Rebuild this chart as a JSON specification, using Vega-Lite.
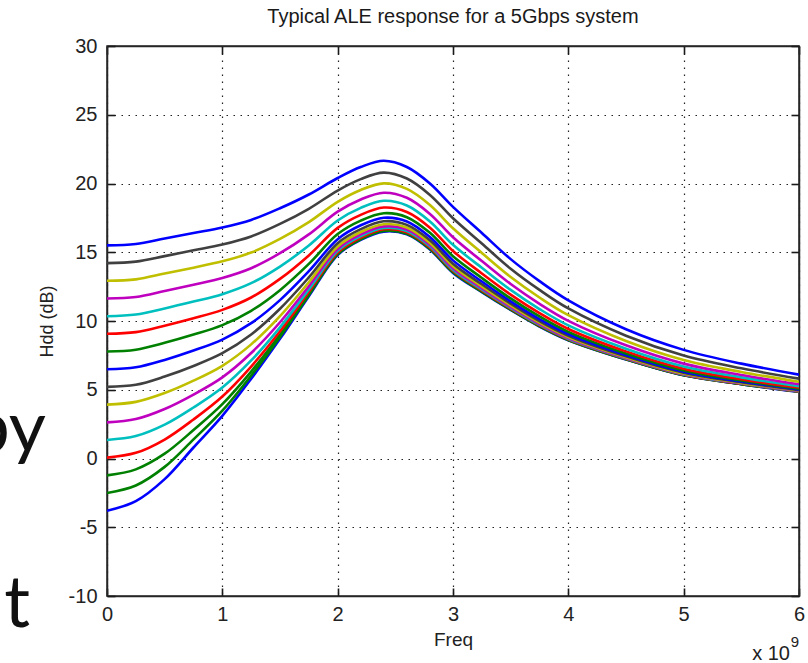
{
"$schema":"https://vega.github.io/schema/vega-lite/v6.json",
"width":692,"height":550,
"autosize":{"type":"none"},
"padding":{"left":107,"top":46,"right":9,"bottom":67},
"background":"#ffffff",
"title":{"text":"Typical ALE response for a 5Gbps system","font":"Liberation Sans","fontSize":20,"fontWeight":"normal","color":"#1a1a1a","offset":9,"anchor":"middle"},
"config":{"view":{"stroke":"#262626","strokeWidth":1.5},"font":"Liberation Sans"},
"datasets":{"curves":[
{"s":15,"f":0,"v":-3.8},{"s":15,"f":2.5e8,"v":-3.1},{"s":15,"f":5e8,"v":-1.5},{"s":15,"f":7.5e8,"v":0.8},{"s":15,"f":1e9,"v":3.1},{"s":15,"f":1.25e9,"v":5.8},{"s":15,"f":1.5e9,"v":8.7},{"s":15,"f":1.75e9,"v":11.8},{"s":15,"f":2e9,"v":14.8},{"s":15,"f":2.2e9,"v":15.9},{"s":15,"f":2.4e9,"v":16.5},{"s":15,"f":2.6e9,"v":16.3},{"s":15,"f":2.8e9,"v":15.2},{"s":15,"f":3e9,"v":13.5},{"s":15,"f":3.25e9,"v":12.1},{"s":15,"f":3.5e9,"v":10.8},{"s":15,"f":3.75e9,"v":9.6},{"s":15,"f":4e9,"v":8.6},{"s":15,"f":4.5e9,"v":7.2},{"s":15,"f":5e9,"v":6.05},{"s":15,"f":5.5e9,"v":5.4},{"s":15,"f":6e9,"v":4.85},
{"s":14,"f":0,"v":-2.51},{"s":14,"f":2.5e8,"v":-1.96},{"s":14,"f":5e8,"v":-0.61},{"s":14,"f":7.5e8,"v":1.39},{"s":14,"f":1e9,"v":3.48},{"s":14,"f":1.25e9,"v":6.03},{"s":14,"f":1.5e9,"v":8.84},{"s":14,"f":1.75e9,"v":11.88},{"s":14,"f":2e9,"v":14.85},{"s":14,"f":2.2e9,"v":15.94},{"s":14,"f":2.4e9,"v":16.54},{"s":14,"f":2.6e9,"v":16.34},{"s":14,"f":2.8e9,"v":15.24},{"s":14,"f":3e9,"v":13.54},{"s":14,"f":3.25e9,"v":12.13},{"s":14,"f":3.5e9,"v":10.82},{"s":14,"f":3.75e9,"v":9.62},{"s":14,"f":4e9,"v":8.62},{"s":14,"f":4.5e9,"v":7.21},{"s":14,"f":5e9,"v":6.06},{"s":14,"f":5.5e9,"v":5.41},{"s":14,"f":6e9,"v":4.86},
{"s":13,"f":0,"v":-1.23},{"s":13,"f":2.5e8,"v":-0.79},{"s":13,"f":5e8,"v":0.35},{"s":13,"f":7.5e8,"v":2.07},{"s":13,"f":1e9,"v":3.95},{"s":13,"f":1.25e9,"v":6.32},{"s":13,"f":1.5e9,"v":9.02},{"s":13,"f":1.75e9,"v":11.98},{"s":13,"f":2e9,"v":14.91},{"s":13,"f":2.2e9,"v":16.0},{"s":13,"f":2.4e9,"v":16.59},{"s":13,"f":2.6e9,"v":16.39},{"s":13,"f":2.8e9,"v":15.28},{"s":13,"f":3e9,"v":13.58},{"s":13,"f":3.25e9,"v":12.17},{"s":13,"f":3.5e9,"v":10.86},{"s":13,"f":3.75e9,"v":9.65},{"s":13,"f":4e9,"v":8.64},{"s":13,"f":4.5e9,"v":7.23},{"s":13,"f":5e9,"v":6.07},{"s":13,"f":5.5e9,"v":5.42},{"s":13,"f":6e9,"v":4.87},
{"s":12,"f":0,"v":0.06},{"s":12,"f":2.5e8,"v":0.41},{"s":12,"f":5e8,"v":1.38},{"s":12,"f":7.5e8,"v":2.84},{"s":12,"f":1e9,"v":4.51},{"s":12,"f":1.25e9,"v":6.69},{"s":12,"f":1.5e9,"v":9.25},{"s":12,"f":1.75e9,"v":12.12},{"s":12,"f":2e9,"v":14.99},{"s":12,"f":2.2e9,"v":16.07},{"s":12,"f":2.4e9,"v":16.67},{"s":12,"f":2.6e9,"v":16.45},{"s":12,"f":2.8e9,"v":15.35},{"s":12,"f":3e9,"v":13.65},{"s":12,"f":3.25e9,"v":12.22},{"s":12,"f":3.5e9,"v":10.9},{"s":12,"f":3.75e9,"v":9.69},{"s":12,"f":4e9,"v":8.67},{"s":12,"f":4.5e9,"v":7.25},{"s":12,"f":5e9,"v":6.09},{"s":12,"f":5.5e9,"v":5.43},{"s":12,"f":6e9,"v":4.88},
{"s":11,"f":0,"v":1.35},{"s":11,"f":2.5e8,"v":1.63},{"s":11,"f":5e8,"v":2.46},{"s":11,"f":7.5e8,"v":3.71},{"s":11,"f":1e9,"v":5.16},{"s":11,"f":1.25e9,"v":7.13},{"s":11,"f":1.5e9,"v":9.54},{"s":11,"f":1.75e9,"v":12.3},{"s":11,"f":2e9,"v":15.1},{"s":11,"f":2.2e9,"v":16.17},{"s":11,"f":2.4e9,"v":16.76},{"s":11,"f":2.6e9,"v":16.54},{"s":11,"f":2.8e9,"v":15.43},{"s":11,"f":3e9,"v":13.73},{"s":11,"f":3.25e9,"v":12.29},{"s":11,"f":3.5e9,"v":10.96},{"s":11,"f":3.75e9,"v":9.73},{"s":11,"f":4e9,"v":8.71},{"s":11,"f":4.5e9,"v":7.28},{"s":11,"f":5e9,"v":6.11},{"s":11,"f":5.5e9,"v":5.45},{"s":11,"f":6e9,"v":4.89},
{"s":10,"f":0,"v":2.63},{"s":10,"f":2.5e8,"v":2.87},{"s":10,"f":5e8,"v":3.6},{"s":10,"f":7.5e8,"v":4.65},{"s":10,"f":1e9,"v":5.9},{"s":10,"f":1.25e9,"v":7.67},{"s":10,"f":1.5e9,"v":9.91},{"s":10,"f":1.75e9,"v":12.53},{"s":10,"f":2e9,"v":15.24},{"s":10,"f":2.2e9,"v":16.3},{"s":10,"f":2.4e9,"v":16.88},{"s":10,"f":2.6e9,"v":16.65},{"s":10,"f":2.8e9,"v":15.54},{"s":10,"f":3e9,"v":13.84},{"s":10,"f":3.25e9,"v":12.39},{"s":10,"f":3.5e9,"v":11.03},{"s":10,"f":3.75e9,"v":9.8},{"s":10,"f":4e9,"v":8.76},{"s":10,"f":4.5e9,"v":7.31},{"s":10,"f":5e9,"v":6.14},{"s":10,"f":5.5e9,"v":5.47},{"s":10,"f":6e9,"v":4.91},
{"s":9,"f":0,"v":3.92},{"s":9,"f":2.5e8,"v":4.12},{"s":9,"f":5e8,"v":4.76},{"s":9,"f":7.5e8,"v":5.66},{"s":9,"f":1e9,"v":6.74},{"s":9,"f":1.25e9,"v":8.3},{"s":9,"f":1.5e9,"v":10.35},{"s":9,"f":1.75e9,"v":12.82},{"s":9,"f":2e9,"v":15.42},{"s":9,"f":2.2e9,"v":16.47},{"s":9,"f":2.4e9,"v":17.04},{"s":9,"f":2.6e9,"v":16.8},{"s":9,"f":2.8e9,"v":15.68},{"s":9,"f":3e9,"v":13.99},{"s":9,"f":3.25e9,"v":12.51},{"s":9,"f":3.5e9,"v":11.13},{"s":9,"f":3.75e9,"v":9.88},{"s":9,"f":4e9,"v":8.84},{"s":9,"f":4.5e9,"v":7.37},{"s":9,"f":5e9,"v":6.18},{"s":9,"f":5.5e9,"v":5.5},{"s":9,"f":6e9,"v":4.94},
{"s":8,"f":0,"v":5.21},{"s":8,"f":2.5e8,"v":5.36},{"s":8,"f":5e8,"v":5.96},{"s":8,"f":7.5e8,"v":6.73},{"s":8,"f":1e9,"v":7.66},{"s":8,"f":1.25e9,"v":9.02},{"s":8,"f":1.5e9,"v":10.89},{"s":8,"f":1.75e9,"v":13.17},{"s":8,"f":2e9,"v":15.66},{"s":8,"f":2.2e9,"v":16.68},{"s":8,"f":2.4e9,"v":17.25},{"s":8,"f":2.6e9,"v":16.99},{"s":8,"f":2.8e9,"v":15.87},{"s":8,"f":3e9,"v":14.17},{"s":8,"f":3.25e9,"v":12.67},{"s":8,"f":3.5e9,"v":11.26},{"s":8,"f":3.75e9,"v":9.99},{"s":8,"f":4e9,"v":8.93},{"s":8,"f":4.5e9,"v":7.43},{"s":8,"f":5e9,"v":6.24},{"s":8,"f":5.5e9,"v":5.55},{"s":8,"f":6e9,"v":4.97},
{"s":7,"f":0,"v":6.49},{"s":7,"f":2.5e8,"v":6.63},{"s":7,"f":5e8,"v":7.17},{"s":7,"f":7.5e8,"v":7.85},{"s":7,"f":1e9,"v":8.65},{"s":7,"f":1.25e9,"v":9.84},{"s":7,"f":1.5e9,"v":11.52},{"s":7,"f":1.75e9,"v":13.62},{"s":7,"f":2e9,"v":15.95},{"s":7,"f":2.2e9,"v":16.96},{"s":7,"f":2.4e9,"v":17.51},{"s":7,"f":2.6e9,"v":17.24},{"s":7,"f":2.8e9,"v":16.11},{"s":7,"f":3e9,"v":14.41},{"s":7,"f":3.25e9,"v":12.87},{"s":7,"f":3.5e9,"v":11.43},{"s":7,"f":3.75e9,"v":10.14},{"s":7,"f":4e9,"v":9.05},{"s":7,"f":4.5e9,"v":7.52},{"s":7,"f":5e9,"v":6.31},{"s":7,"f":5.5e9,"v":5.6},{"s":7,"f":6e9,"v":5.02},
{"s":6,"f":0,"v":7.78},{"s":6,"f":2.5e8,"v":7.91},{"s":6,"f":5e8,"v":8.41},{"s":6,"f":7.5e8,"v":9.01},{"s":6,"f":1e9,"v":9.7},{"s":6,"f":1.25e9,"v":10.74},{"s":6,"f":1.5e9,"v":12.24},{"s":6,"f":1.75e9,"v":14.15},{"s":6,"f":2e9,"v":16.32},{"s":6,"f":2.2e9,"v":17.3},{"s":6,"f":2.4e9,"v":17.84},{"s":6,"f":2.6e9,"v":17.55},{"s":6,"f":2.8e9,"v":16.41},{"s":6,"f":3e9,"v":14.71},{"s":6,"f":3.25e9,"v":13.13},{"s":6,"f":3.5e9,"v":11.64},{"s":6,"f":3.75e9,"v":10.33},{"s":6,"f":4e9,"v":9.21},{"s":6,"f":4.5e9,"v":7.63},{"s":6,"f":5e9,"v":6.4},{"s":6,"f":5.5e9,"v":5.68},{"s":6,"f":6e9,"v":5.08},
{"s":5,"f":0,"v":9.07},{"s":5,"f":2.5e8,"v":9.19},{"s":5,"f":5e8,"v":9.66},{"s":5,"f":7.5e8,"v":10.2},{"s":5,"f":1e9,"v":10.81},{"s":5,"f":1.25e9,"v":11.71},{"s":5,"f":1.5e9,"v":13.06},{"s":5,"f":1.75e9,"v":14.77},{"s":5,"f":2e9,"v":16.77},{"s":5,"f":2.2e9,"v":17.72},{"s":5,"f":2.4e9,"v":18.25},{"s":5,"f":2.6e9,"v":17.93},{"s":5,"f":2.8e9,"v":16.79},{"s":5,"f":3e9,"v":15.09},{"s":5,"f":3.25e9,"v":13.46},{"s":5,"f":3.5e9,"v":11.92},{"s":5,"f":3.75e9,"v":10.57},{"s":5,"f":4e9,"v":9.42},{"s":5,"f":4.5e9,"v":7.79},{"s":5,"f":5e9,"v":6.53},{"s":5,"f":5.5e9,"v":5.77},{"s":5,"f":6e9,"v":5.16},
{"s":4,"f":0,"v":10.35},{"s":4,"f":2.5e8,"v":10.47},{"s":4,"f":5e8,"v":10.91},{"s":4,"f":7.5e8,"v":11.41},{"s":4,"f":1e9,"v":11.95},{"s":4,"f":1.25e9,"v":12.75},{"s":4,"f":1.5e9,"v":13.96},{"s":4,"f":1.75e9,"v":15.49},{"s":4,"f":2e9,"v":17.31},{"s":4,"f":2.2e9,"v":18.23},{"s":4,"f":2.4e9,"v":18.74},{"s":4,"f":2.6e9,"v":18.4},{"s":4,"f":2.8e9,"v":17.24},{"s":4,"f":3e9,"v":15.54},{"s":4,"f":3.25e9,"v":13.87},{"s":4,"f":3.5e9,"v":12.26},{"s":4,"f":3.75e9,"v":10.87},{"s":4,"f":4e9,"v":9.68},{"s":4,"f":4.5e9,"v":7.98},{"s":4,"f":5e9,"v":6.69},{"s":4,"f":5.5e9,"v":5.9},{"s":4,"f":6e9,"v":5.26},
{"s":3,"f":0,"v":11.64},{"s":3,"f":2.5e8,"v":11.75},{"s":3,"f":5e8,"v":12.18},{"s":3,"f":7.5e8,"v":12.64},{"s":3,"f":1e9,"v":13.13},{"s":3,"f":1.25e9,"v":13.84},{"s":3,"f":1.5e9,"v":14.93},{"s":3,"f":1.75e9,"v":16.3},{"s":3,"f":2e9,"v":17.95},{"s":3,"f":2.2e9,"v":18.84},{"s":3,"f":2.4e9,"v":19.33},{"s":3,"f":2.6e9,"v":18.96},{"s":3,"f":2.8e9,"v":17.79},{"s":3,"f":3e9,"v":16.09},{"s":3,"f":3.25e9,"v":14.36},{"s":3,"f":3.5e9,"v":12.69},{"s":3,"f":3.75e9,"v":11.25},{"s":3,"f":4e9,"v":10.01},{"s":3,"f":4.5e9,"v":8.23},{"s":3,"f":5e9,"v":6.9},{"s":3,"f":5.5e9,"v":6.07},{"s":3,"f":6e9,"v":5.4},
{"s":2,"f":0,"v":12.93},{"s":2,"f":2.5e8,"v":13.03},{"s":2,"f":5e8,"v":13.45},{"s":2,"f":7.5e8,"v":13.88},{"s":2,"f":1e9,"v":14.34},{"s":2,"f":1.25e9,"v":14.98},{"s":2,"f":1.5e9,"v":15.97},{"s":2,"f":1.75e9,"v":17.19},{"s":2,"f":2e9,"v":18.67},{"s":2,"f":2.2e9,"v":19.53},{"s":2,"f":2.4e9,"v":20.01},{"s":2,"f":2.6e9,"v":19.61},{"s":2,"f":2.8e9,"v":18.44},{"s":2,"f":3e9,"v":16.74},{"s":2,"f":3.25e9,"v":14.95},{"s":2,"f":3.5e9,"v":13.2},{"s":2,"f":3.75e9,"v":11.71},{"s":2,"f":4e9,"v":10.42},{"s":2,"f":4.5e9,"v":8.54},{"s":2,"f":5e9,"v":7.16},{"s":2,"f":5.5e9,"v":6.29},{"s":2,"f":6e9,"v":5.58},
{"s":1,"f":0,"v":14.21},{"s":1,"f":2.5e8,"v":14.32},{"s":1,"f":5e8,"v":14.72},{"s":1,"f":7.5e8,"v":15.14},{"s":1,"f":1e9,"v":15.56},{"s":1,"f":1.25e9,"v":16.15},{"s":1,"f":1.5e9,"v":17.06},{"s":1,"f":1.75e9,"v":18.16},{"s":1,"f":2e9,"v":19.49},{"s":1,"f":2.2e9,"v":20.32},{"s":1,"f":2.4e9,"v":20.79},{"s":1,"f":2.6e9,"v":20.36},{"s":1,"f":2.8e9,"v":19.17},{"s":1,"f":3e9,"v":17.47},{"s":1,"f":3.25e9,"v":15.63},{"s":1,"f":3.5e9,"v":13.8},{"s":1,"f":3.75e9,"v":12.26},{"s":1,"f":4e9,"v":10.91},{"s":1,"f":4.5e9,"v":8.93},{"s":1,"f":5e9,"v":7.49},{"s":1,"f":5.5e9,"v":6.56},{"s":1,"f":6e9,"v":5.81},
{"s":0,"f":0,"v":15.5},{"s":0,"f":2.5e8,"v":15.6},{"s":0,"f":5e8,"v":16.0},{"s":0,"f":7.5e8,"v":16.4},{"s":0,"f":1e9,"v":16.8},{"s":0,"f":1.25e9,"v":17.35},{"s":0,"f":1.5e9,"v":18.2},{"s":0,"f":1.75e9,"v":19.2},{"s":0,"f":2e9,"v":20.4},{"s":0,"f":2.2e9,"v":21.2},{"s":0,"f":2.4e9,"v":21.65},{"s":0,"f":2.6e9,"v":21.2},{"s":0,"f":2.8e9,"v":20.0},{"s":0,"f":3e9,"v":18.3},{"s":0,"f":3.25e9,"v":16.4},{"s":0,"f":3.5e9,"v":14.5},{"s":0,"f":3.75e9,"v":12.9},{"s":0,"f":4e9,"v":11.5},{"s":0,"f":4.5e9,"v":9.4},{"s":0,"f":5e9,"v":7.9},{"s":0,"f":5.5e9,"v":6.9},{"s":0,"f":6e9,"v":6.1}
],"one":[{}]},
"layer":[
{"data":{"name":"curves"},
 "mark":{"type":"line","interpolate":"catmull-rom","strokeWidth":2.6,"clip":true},
 "encoding":{
  "x":{"field":"f","type":"quantitative","scale":{"domain":[0,6e9],"nice":false,"zero":false},
   "axis":{"orient":"bottom","values":[0,1e9,2e9,3e9,4e9,5e9,6e9],"labelExpr":"'' + (datum.value/1e9)","title":"Freq",
    "grid":true,"gridDash":[1.5,5.5],"gridColor":"#222222","gridWidth":1.2,"gridOpacity":1,
    "ticks":true,"tickSize":-8,"tickColor":"#1a1a1a","tickWidth":1.6,"tickOpacity":1,"labelPadding":16,"labelFontSize":20,"labelFont":"Liberation Sans","labelColor":"#222222","labelFlush":false,"labelOverlap":false,
    "titleFont":"Liberation Sans","titleFontSize":19,"titleFontWeight":"normal","titleColor":"#222222","titlePadding":6,
    "domainColor":"#262626","domainWidth":1.5}},
  "y":{"field":"v","type":"quantitative","scale":{"domain":[-10,30],"nice":false,"zero":false},
   "axis":{"orient":"left","values":[-10,-5,0,5,10,15,20,25,30],"labelExpr":"'' + datum.value","title":"Hdd (dB)",
    "grid":true,"gridDash":[1.5,5.5],"gridColor":"#222222","gridWidth":1.2,"gridOpacity":1,
    "ticks":true,"tickSize":-8,"tickColor":"#1a1a1a","tickWidth":1.6,"tickOpacity":1,"labelPadding":18,"labelFontSize":20,"labelFont":"Liberation Sans","labelColor":"#222222","labelFlush":false,"labelOverlap":false,
    "titleFont":"Liberation Sans","titleFontSize":18,"titleFontWeight":"normal","titleColor":"#222222","titlePadding":12,
    "domainColor":"#262626","domainWidth":1.5}},
  "color":{"field":"s","type":"nominal","legend":null,
   "scale":{"domain":[0,1,2,3,4,5,6,7,8,9,10,11,12,13,14,15],
    "range":["#0000ff","#404040","#bfbf00","#bf00bf","#00bfbf","#ff0000","#008000","#0000ff","#404040","#bfbf00","#bf00bf","#00bfbf","#ff0000","#008000","#008000","#0000ff"]}}
 }},
{"data":{"name":"curves"},
 "mark":{"type":"line","opacity":0},
 "encoding":{
  "x":{"field":"f","type":"quantitative","scale":{"domain":[0,6e9],"nice":false,"zero":false},
   "axis":{"orient":"top","values":[0,1e9,2e9,3e9,4e9,5e9,6e9],"labels":false,"title":null,"grid":false,"ticks":true,"tickSize":-8,"tickColor":"#1a1a1a","tickWidth":1.6,"domainColor":"#262626","domainWidth":1.5}},
  "y":{"field":"v","type":"quantitative","scale":{"domain":[-10,30],"nice":false,"zero":false},
   "axis":{"orient":"right","values":[-10,-5,0,5,10,15,20,25,30],"labels":false,"title":null,"grid":false,"ticks":true,"tickSize":-8,"tickColor":"#1a1a1a","tickWidth":1.6,"domainColor":"#262626","domainWidth":1.5}},
  "detail":{"field":"s","type":"nominal"}
 }},
{"data":{"name":"one"},
 "mark":{"type":"text","align":"right","baseline":"alphabetic","font":"Liberation Sans","fontSize":20,"color":"#222222"},
 "encoding":{"x":{"datum":5.922e9,"type":"quantitative","scale":{"domain":[0,6e9],"nice":false,"zero":false},"axis":null},
  "y":{"datum":-14.65,"type":"quantitative","scale":{"domain":[-10,30],"nice":false,"zero":false},"axis":null},
  "text":{"value":"x 10"}}},
{"data":{"name":"one"},
 "mark":{"type":"text","align":"left","baseline":"alphabetic","font":"Liberation Sans","fontSize":15,"color":"#222222"},
 "encoding":{"x":{"datum":5.928e9,"type":"quantitative","scale":{"domain":[0,6e9],"nice":false,"zero":false},"axis":null},
  "y":{"datum":-13.71,"type":"quantitative","scale":{"domain":[-10,30],"nice":false,"zero":false},"axis":null},
  "text":{"value":"9"}}},
{"data":{"name":"one"},
 "mark":{"type":"text","align":"right","baseline":"alphabetic","font":"Lato","fontSize":72,"color":"#111111"},
 "encoding":{"x":{"datum":-5.29e8,"type":"quantitative","scale":{"domain":[0,6e9],"nice":false,"zero":false},"axis":null},
  "y":{"datum":0.47,"type":"quantitative","scale":{"domain":[-10,30],"nice":false,"zero":false},"axis":null},
  "text":{"value":"by"}}},
{"data":{"name":"one"},
 "mark":{"type":"text","align":"right","baseline":"alphabetic","font":"Lato","fontSize":72,"color":"#111111"},
 "encoding":{"x":{"datum":-6.68e8,"type":"quantitative","scale":{"domain":[0,6e9],"nice":false,"zero":false},"axis":null},
  "y":{"datum":-12.25,"type":"quantitative","scale":{"domain":[-10,30],"nice":false,"zero":false},"axis":null},
  "text":{"value":"t"}}}
],
"resolve":{"axis":{"x":"independent","y":"independent"}}
}
